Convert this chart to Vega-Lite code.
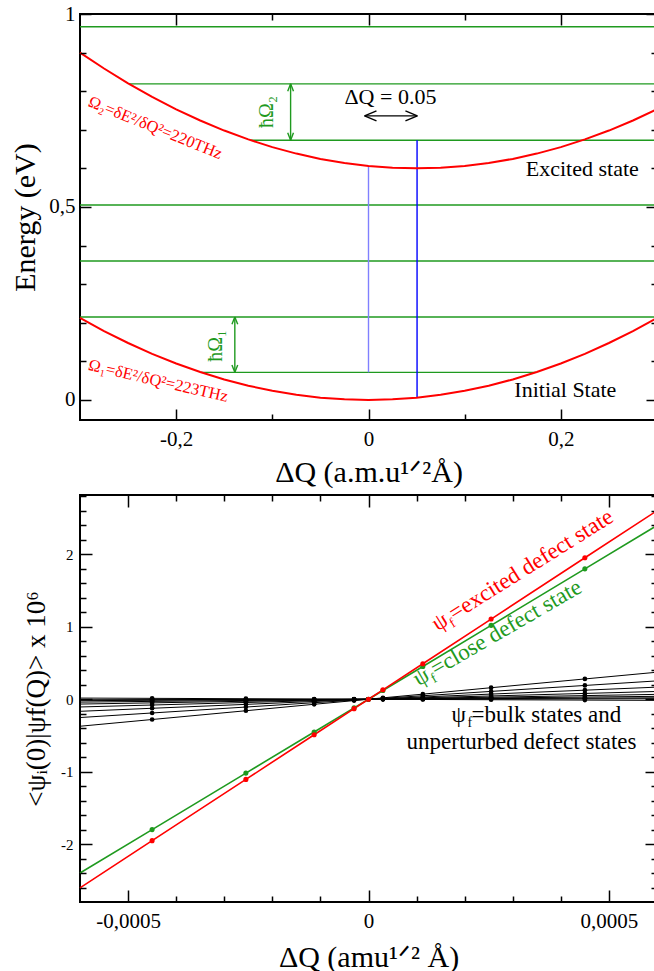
{
 "$schema": "https://vega.github.io/schema/vega-lite/v6.json",
 "padding": {"left": 9, "top": 2, "right": 0, "bottom": 0},
 "spacing": 5,
 "resolve": {"scale": {"color": "independent"}},
 "config": {
  "font": "Liberation Serif",
  "view": {"stroke": "#000000", "strokeWidth": 2},
  "axis": {"domain": false, "grid": false, "tickColor": "#000000", "tickWidth": 1.5, "labelColor": "#000000", "titleColor": "#000000", "labelFont": "Liberation Serif", "titleFont": "Liberation Serif", "titleFontWeight": "normal"},
  "text": {"font": "Liberation Serif"}
 },
 "datasets": {
  "segsTop": [
   {"x": -0.3, "y": 0.967, "x2": 0.3, "y2": 0.967, "kind": "g"},
   {"x": -0.249, "y": 0.819, "x2": 0.3, "y2": 0.819, "kind": "g"},
   {"x": -0.1226, "y": 0.673, "x2": 0.3, "y2": 0.673, "kind": "g"},
   {"x": -0.3, "y": 0.505, "x2": 0.3, "y2": 0.505, "kind": "g"},
   {"x": -0.3, "y": 0.36, "x2": 0.3, "y2": 0.36, "kind": "g"},
   {"x": -0.3, "y": 0.215, "x2": 0.3, "y2": 0.215, "kind": "g"},
   {"x": -0.174, "y": 0.0715, "x2": 0.174, "y2": 0.0715, "kind": "g"},
   {"x": -0.081, "y": 0.673, "x2": -0.081, "y2": 0.819, "kind": "g"},
   {"x": -0.081, "y": 0.819, "x2": -0.084, "y2": 0.8, "kind": "g"},
   {"x": -0.081, "y": 0.819, "x2": -0.078, "y2": 0.8, "kind": "g"},
   {"x": -0.081, "y": 0.673, "x2": -0.084, "y2": 0.692, "kind": "g"},
   {"x": -0.081, "y": 0.673, "x2": -0.078, "y2": 0.692, "kind": "g"},
   {"x": -0.139, "y": 0.0715, "x2": -0.139, "y2": 0.215, "kind": "g"},
   {"x": -0.139, "y": 0.215, "x2": -0.142, "y2": 0.196, "kind": "g"},
   {"x": -0.139, "y": 0.215, "x2": -0.136, "y2": 0.196, "kind": "g"},
   {"x": -0.139, "y": 0.0715, "x2": -0.142, "y2": 0.0905, "kind": "g"},
   {"x": -0.139, "y": 0.0715, "x2": -0.136, "y2": 0.0905, "kind": "g"},
   {"x": 0, "y": 0.0715, "x2": 0, "y2": 0.606, "kind": "lb"},
   {"x": 0.0505, "y": 0.0059, "x2": 0.0505, "y2": 0.673, "kind": "b"},
   {"x": -0.0041, "y": 0.736, "x2": 0.0508, "y2": 0.736, "kind": "k"},
   {"x": -0.0041, "y": 0.736, "x2": 0.0083, "y2": 0.749, "kind": "k"},
   {"x": -0.0041, "y": 0.736, "x2": 0.0083, "y2": 0.723, "kind": "k"},
   {"x": 0.0508, "y": 0.736, "x2": 0.0384, "y2": 0.749, "kind": "k"},
   {"x": 0.0508, "y": 0.736, "x2": 0.0384, "y2": 0.723, "kind": "k"}
  ],
  "curvesTop": [
   {"curve": "ground", "q": -0.3, "e": 0.2124},
   {"curve": "ground", "q": -0.275, "e": 0.1785},
   {"curve": "ground", "q": -0.25, "e": 0.1475},
   {"curve": "ground", "q": -0.225, "e": 0.1195},
   {"curve": "ground", "q": -0.2, "e": 0.0944},
   {"curve": "ground", "q": -0.175, "e": 0.0723},
   {"curve": "ground", "q": -0.15, "e": 0.0531},
   {"curve": "ground", "q": -0.125, "e": 0.0369},
   {"curve": "ground", "q": -0.1, "e": 0.0236},
   {"curve": "ground", "q": -0.075, "e": 0.0133},
   {"curve": "ground", "q": -0.05, "e": 0.0059},
   {"curve": "ground", "q": -0.025, "e": 0.0015},
   {"curve": "ground", "q": 0, "e": 0},
   {"curve": "ground", "q": 0.025, "e": 0.0015},
   {"curve": "ground", "q": 0.05, "e": 0.0059},
   {"curve": "ground", "q": 0.075, "e": 0.0133},
   {"curve": "ground", "q": 0.1, "e": 0.0236},
   {"curve": "ground", "q": 0.125, "e": 0.0369},
   {"curve": "ground", "q": 0.15, "e": 0.0531},
   {"curve": "ground", "q": 0.175, "e": 0.0723},
   {"curve": "ground", "q": 0.2, "e": 0.0944},
   {"curve": "ground", "q": 0.225, "e": 0.1195},
   {"curve": "ground", "q": 0.25, "e": 0.1475},
   {"curve": "ground", "q": 0.275, "e": 0.1785},
   {"curve": "ground", "q": 0.3, "e": 0.2124},
   {"curve": "excited", "q": -0.3, "e": 0.9001},
   {"curve": "excited", "q": -0.275, "e": 0.8588},
   {"curve": "excited", "q": -0.25, "e": 0.8205},
   {"curve": "excited", "q": -0.225, "e": 0.7853},
   {"curve": "excited", "q": -0.2, "e": 0.7531},
   {"curve": "excited", "q": -0.175, "e": 0.724},
   {"curve": "excited", "q": -0.15, "e": 0.698},
   {"curve": "excited", "q": -0.125, "e": 0.675},
   {"curve": "excited", "q": -0.1, "e": 0.6551},
   {"curve": "excited", "q": -0.075, "e": 0.6383},
   {"curve": "excited", "q": -0.05, "e": 0.6245},
   {"curve": "excited", "q": -0.025, "e": 0.6138},
   {"curve": "excited", "q": 0, "e": 0.6061},
   {"curve": "excited", "q": 0.025, "e": 0.6015},
   {"curve": "excited", "q": 0.05, "e": 0.6},
   {"curve": "excited", "q": 0.075, "e": 0.6015},
   {"curve": "excited", "q": 0.1, "e": 0.6061},
   {"curve": "excited", "q": 0.125, "e": 0.6138},
   {"curve": "excited", "q": 0.15, "e": 0.6245},
   {"curve": "excited", "q": 0.175, "e": 0.6383},
   {"curve": "excited", "q": 0.2, "e": 0.6551},
   {"curve": "excited", "q": 0.225, "e": 0.675},
   {"curve": "excited", "q": 0.25, "e": 0.698},
   {"curve": "excited", "q": 0.275, "e": 0.724},
   {"curve": "excited", "q": 0.3, "e": 0.7531}
  ],
  "textTop": [
   {"q": 0.0228, "e": 0.785, "label": "ΔQ = 0.05"},
   {"q": 0.2223, "e": 0.598, "label": "Excited state"},
   {"q": 0.2047, "e": 0.026, "label": "Initial State"}
  ],
  "hbarTop": [
   {"q": -0.1057, "e": 0.746, "label": "ħΩ₂"},
   {"q": -0.1585, "e": 0.14, "label": "ħΩ₁"}
  ],
  "om2": [{"q": -0.2218, "e": 0.705, "label": "Ω₂=δE²/δQ²=220THz"}],
  "om1": [{"q": -0.2187, "e": 0.049, "label": "Ω₁=δE²/δQ²=223THz"}],
  "black": [
   {"id": 1, "x": -0.0006, "v": -0.373}, {"id": 1, "x": -0.00045, "v": -0.28}, {"id": 1, "x": -0.000255, "v": -0.159}, {"id": 1, "x": -0.000113, "v": -0.07}, {"id": 1, "x": -0.00003, "v": -0.019}, {"id": 1, "x": 0, "v": 0}, {"id": 1, "x": 0.00003, "v": 0.019}, {"id": 1, "x": 0.000113, "v": 0.07}, {"id": 1, "x": 0.000255, "v": 0.159}, {"id": 1, "x": 0.00045, "v": 0.28}, {"id": 1, "x": 0.0006, "v": 0.373},
   {"id": 2, "x": -0.0006, "v": -0.253}, {"id": 2, "x": -0.00045, "v": -0.19}, {"id": 2, "x": -0.000255, "v": -0.108}, {"id": 2, "x": -0.000113, "v": -0.048}, {"id": 2, "x": -0.00003, "v": -0.013}, {"id": 2, "x": 0, "v": 0}, {"id": 2, "x": 0.00003, "v": 0.013}, {"id": 2, "x": 0.000113, "v": 0.048}, {"id": 2, "x": 0.000255, "v": 0.108}, {"id": 2, "x": 0.00045, "v": 0.19}, {"id": 2, "x": 0.0006, "v": 0.253},
   {"id": 3, "x": -0.0006, "v": -0.167}, {"id": 3, "x": -0.00045, "v": -0.125}, {"id": 3, "x": -0.000255, "v": -0.071}, {"id": 3, "x": -0.000113, "v": -0.031}, {"id": 3, "x": -0.00003, "v": -0.008}, {"id": 3, "x": 0, "v": 0}, {"id": 3, "x": 0.00003, "v": 0.008}, {"id": 3, "x": 0.000113, "v": 0.031}, {"id": 3, "x": 0.000255, "v": 0.071}, {"id": 3, "x": 0.00045, "v": 0.125}, {"id": 3, "x": 0.0006, "v": 0.167},
   {"id": 4, "x": -0.0006, "v": -0.107}, {"id": 4, "x": -0.00045, "v": -0.08}, {"id": 4, "x": -0.000255, "v": -0.045}, {"id": 4, "x": -0.000113, "v": -0.02}, {"id": 4, "x": -0.00003, "v": -0.005}, {"id": 4, "x": 0, "v": 0}, {"id": 4, "x": 0.00003, "v": 0.005}, {"id": 4, "x": 0.000113, "v": 0.02}, {"id": 4, "x": 0.000255, "v": 0.045}, {"id": 4, "x": 0.00045, "v": 0.08}, {"id": 4, "x": 0.0006, "v": 0.107},
   {"id": 5, "x": -0.0006, "v": -0.067}, {"id": 5, "x": -0.00045, "v": -0.05}, {"id": 5, "x": -0.000255, "v": -0.028}, {"id": 5, "x": -0.000113, "v": -0.013}, {"id": 5, "x": -0.00003, "v": -0.003}, {"id": 5, "x": 0, "v": 0}, {"id": 5, "x": 0.00003, "v": 0.003}, {"id": 5, "x": 0.000113, "v": 0.013}, {"id": 5, "x": 0.000255, "v": 0.028}, {"id": 5, "x": 0.00045, "v": 0.05}, {"id": 5, "x": 0.0006, "v": 0.067},
   {"id": 6, "x": -0.0006, "v": -0.04}, {"id": 6, "x": -0.00045, "v": -0.03}, {"id": 6, "x": -0.000255, "v": -0.017}, {"id": 6, "x": -0.000113, "v": -0.008}, {"id": 6, "x": -0.00003, "v": -0.002}, {"id": 6, "x": 0, "v": 0}, {"id": 6, "x": 0.00003, "v": 0.002}, {"id": 6, "x": 0.000113, "v": 0.008}, {"id": 6, "x": 0.000255, "v": 0.017}, {"id": 6, "x": 0.00045, "v": 0.03}, {"id": 6, "x": 0.0006, "v": 0.04},
   {"id": 7, "x": -0.0006, "v": -0.02}, {"id": 7, "x": -0.00045, "v": -0.015}, {"id": 7, "x": -0.000255, "v": -0.0085}, {"id": 7, "x": -0.000113, "v": -0.004}, {"id": 7, "x": -0.00003, "v": -0.001}, {"id": 7, "x": 0, "v": 0}, {"id": 7, "x": 0.00003, "v": 0.001}, {"id": 7, "x": 0.000113, "v": 0.004}, {"id": 7, "x": 0.000255, "v": 0.0085}, {"id": 7, "x": 0.00045, "v": 0.015}, {"id": 7, "x": 0.0006, "v": 0.02},
   {"id": 8, "x": -0.0006, "v": -0.007}, {"id": 8, "x": -0.00045, "v": -0.005}, {"id": 8, "x": -0.000255, "v": -0.003}, {"id": 8, "x": -0.000113, "v": -0.001}, {"id": 8, "x": -0.00003, "v": 0}, {"id": 8, "x": 0, "v": 0}, {"id": 8, "x": 0.00003, "v": 0}, {"id": 8, "x": 0.000113, "v": 0.001}, {"id": 8, "x": 0.000255, "v": 0.003}, {"id": 8, "x": 0.00045, "v": 0.005}, {"id": 8, "x": 0.0006, "v": 0.007},
   {"id": 9, "x": -0.0006, "v": 0.016}, {"id": 9, "x": -0.00045, "v": 0.012}, {"id": 9, "x": -0.000255, "v": 0.007}, {"id": 9, "x": -0.000113, "v": 0.003}, {"id": 9, "x": -0.00003, "v": 0.001}, {"id": 9, "x": 0, "v": 0}, {"id": 9, "x": 0.00003, "v": -0.001}, {"id": 9, "x": 0.000113, "v": -0.003}, {"id": 9, "x": 0.000255, "v": -0.007}, {"id": 9, "x": 0.00045, "v": -0.012}, {"id": 9, "x": 0.0006, "v": -0.016}
  ],
  "rg": [
   {"s": "g", "x": -0.0006, "v": -2.4}, {"s": "g", "x": -0.00045, "v": -1.8}, {"s": "g", "x": -0.000255, "v": -1.02}, {"s": "g", "x": -0.000113, "v": -0.452}, {"s": "g", "x": -0.00003, "v": -0.12}, {"s": "g", "x": 0, "v": 0}, {"s": "g", "x": 0.00003, "v": 0.12}, {"s": "g", "x": 0.000113, "v": 0.452}, {"s": "g", "x": 0.000255, "v": 1.02}, {"s": "g", "x": 0.00045, "v": 1.8}, {"s": "g", "x": 0.0006, "v": 2.4},
   {"s": "r", "x": -0.0006, "v": -2.604}, {"s": "r", "x": -0.00045, "v": -1.953}, {"s": "r", "x": -0.000255, "v": -1.107}, {"s": "r", "x": -0.000113, "v": -0.49}, {"s": "r", "x": -0.00003, "v": -0.13}, {"s": "r", "x": 0, "v": 0}, {"s": "r", "x": 0.00003, "v": 0.13}, {"s": "r", "x": 0.000113, "v": 0.49}, {"s": "r", "x": 0.000255, "v": 1.107}, {"s": "r", "x": 0.00045, "v": 1.953}, {"s": "r", "x": 0.0006, "v": 2.604}
  ],
  "redText": [{"x": 0.0001434, "v": 0.934, "label": "ψ =excited defect state"}],
  "redSub": [{"x": 0.0001752, "v": 0.985, "label": "f"}],
  "greenText": [{"x": 0.0001042, "v": 0.175, "label": "ψ =close defect state"}],
  "greenSub": [{"x": 0.0001361, "v": 0.219, "label": "f"}],
  "blackText": [
   {"x": 0.0001725, "v": -0.308, "label": "ψ =bulk states and"},
   {"x": 0.0000792, "v": -0.692, "label": "unperturbed defect states"}
  ],
  "blackSub": [{"x": 0.0002058, "v": -0.385, "label": "f"}]
 },
 "vconcat": [
  {
   "width": 577,
   "height": 406,
   "resolve": {"axis": {"x": "independent", "y": "independent"}},
   "layer": [
    {
     "data": {"name": "segsTop"},
     "mark": {"type": "rule", "strokeWidth": 1.4},
     "encoding": {
      "x": {"field": "x", "type": "quantitative", "scale": {"domain": [-0.3, 0.3], "nice": false, "zero": false},
            "axis": {"orient": "bottom", "values": [-0.2, 0, 0.2], "ticks": false, "labelFontSize": 21, "labelPadding": 8, "labelExpr": "replace(replace(format(datum.value, ''), '.', ','), '−', '-')", "title": "ΔQ (a.m.u¹ᐟ²Å)", "titleFontSize": 30, "titlePadding": 8}},
      "y": {"field": "y", "type": "quantitative", "scale": {"domain": [-0.052, 1.0], "nice": false, "zero": false},
            "axis": {"orient": "left", "values": [0, 0.5, 1], "ticks": false, "labelFontSize": 21, "labelPadding": 5, "labelExpr": "replace(format(datum.value, ''), '.', ',')", "title": "Energy (eV)", "titleFontSize": 30, "titlePadding": 8}},
      "x2": {"field": "x2"},
      "y2": {"field": "y2"},
      "color": {"field": "kind", "type": "nominal", "scale": {"domain": ["g", "b", "lb", "k"], "range": ["#1f9a1f", "#0000ff", "#8080ff", "#000000"]}, "legend": null}
     }
    },
    {
     "data": {"name": "curvesTop"},
     "mark": {"type": "line", "color": "#ff0000", "strokeWidth": 2},
     "encoding": {
      "x": {"field": "q", "type": "quantitative", "scale": {"domain": [-0.3, 0.3], "nice": false, "zero": false},
            "axis": {"orient": "bottom", "values": [-0.2, 0, 0.2], "offset": -11, "tickSize": 11, "zindex": 1, "labels": false, "title": null}},
      "y": {"field": "e", "type": "quantitative", "scale": {"domain": [-0.052, 1.0], "nice": false, "zero": false},
            "axis": {"orient": "left", "values": [0, 0.5, 1], "offset": -11, "tickSize": 11, "zindex": 1, "labels": false, "title": null}},
      "detail": {"field": "curve"}
     }
    },
    {
     "data": {"name": "textTop"},
     "mark": {"type": "text", "fontSize": 22, "color": "#000000", "align": "center", "baseline": "middle"},
     "encoding": {
      "x": {"field": "q", "type": "quantitative", "scale": {"domain": [-0.3, 0.3], "nice": false, "zero": false},
            "axis": {"orient": "bottom", "values": [-0.1, 0.1], "offset": -6, "tickSize": 6, "zindex": 1, "labels": false, "title": null}},
      "y": {"field": "e", "type": "quantitative", "scale": {"domain": [-0.052, 1.0], "nice": false, "zero": false},
            "axis": {"orient": "left", "values": [0.1, 0.2, 0.3, 0.4, 0.6, 0.7, 0.8, 0.9], "offset": -6, "tickSize": 6, "zindex": 1, "labels": false, "title": null}},
      "text": {"field": "label"}
     }
    },
    {
     "data": {"name": "hbarTop"},
     "mark": {"type": "text", "fontSize": 20, "color": "#1f9a1f", "align": "center", "baseline": "middle", "angle": 270},
     "encoding": {
      "x": {"field": "q", "type": "quantitative", "scale": {"domain": [-0.3, 0.3], "nice": false, "zero": false},
            "axis": {"orient": "top", "values": [-0.2, 0, 0.2], "offset": -11, "tickSize": 11, "zindex": 1, "labels": false, "title": null}},
      "y": {"field": "e", "type": "quantitative", "scale": {"domain": [-0.052, 1.0], "nice": false, "zero": false},
            "axis": {"orient": "right", "values": [0, 0.5, 1], "offset": -11, "tickSize": 11, "zindex": 1, "labels": false, "title": null}},
      "text": {"field": "label"}
     }
    },
    {
     "data": {"name": "om2"},
     "mark": {"type": "text", "fontSize": 16.5, "color": "#ff0000", "align": "center", "baseline": "middle", "angle": 22},
     "encoding": {
      "x": {"field": "q", "type": "quantitative", "scale": {"domain": [-0.3, 0.3], "nice": false, "zero": false},
            "axis": {"orient": "top", "values": [-0.1, 0.1], "offset": -6, "tickSize": 6, "zindex": 1, "labels": false, "title": null}},
      "y": {"field": "e", "type": "quantitative", "scale": {"domain": [-0.052, 1.0], "nice": false, "zero": false},
            "axis": {"orient": "right", "values": [0.1, 0.2, 0.3, 0.4, 0.6, 0.7, 0.8, 0.9], "offset": -6, "tickSize": 6, "zindex": 1, "labels": false, "title": null}},
      "text": {"field": "label"}
     }
    },
    {
     "data": {"name": "om1"},
     "mark": {"type": "text", "fontSize": 16.5, "color": "#ff0000", "align": "center", "baseline": "middle", "angle": 13},
     "encoding": {
      "x": {"field": "q", "type": "quantitative", "scale": {"domain": [-0.3, 0.3], "nice": false, "zero": false}, "axis": null},
      "y": {"field": "e", "type": "quantitative", "scale": {"domain": [-0.052, 1.0], "nice": false, "zero": false}, "axis": null},
      "text": {"field": "label"}
     }
    }
   ]
  },
  {
   "width": 577,
   "height": 407,
   "resolve": {"axis": {"x": "independent", "y": "independent"}},
   "layer": [
    {
     "data": {"name": "black"},
     "mark": {"type": "line", "color": "#000000", "strokeWidth": 1},
     "encoding": {
      "x": {"field": "x", "type": "quantitative", "scale": {"domain": [-0.0006, 0.0006], "nice": false, "zero": false},
            "axis": {"orient": "bottom", "values": [-0.0005, 0, 0.0005], "ticks": false, "labelFontSize": 21, "labelPadding": 8, "labelExpr": "replace(replace(format(datum.value, ''), '.', ','), '−', '-')", "title": "ΔQ (amu¹ᐟ² Å)", "titleFontSize": 30, "titlePadding": 11}},
      "y": {"field": "v", "type": "quantitative", "scale": {"domain": [-2.8, 2.82], "nice": false, "zero": false},
            "axis": {"orient": "left", "values": [-2, -1, 0, 1, 2], "ticks": false, "labelFontSize": 15, "labelPadding": 7, "labelExpr": "replace(format(datum.value, ''), '−', '-')", "title": "<ψᵢ(0)|ψf(Q)> x 10⁶", "titleFontSize": 27, "titlePadding": 10}},
      "detail": {"field": "id"}
     }
    },
    {
     "data": {"name": "rg"},
     "mark": {"type": "line", "strokeWidth": 1.6},
     "encoding": {
      "x": {"field": "x", "type": "quantitative", "scale": {"domain": [-0.0006, 0.0006], "nice": false, "zero": false},
            "axis": {"orient": "bottom", "values": [-0.0005, 0, 0.0005], "offset": -12, "tickSize": 12, "zindex": 1, "labels": false, "title": null}},
      "y": {"field": "v", "type": "quantitative", "scale": {"domain": [-2.8, 2.82], "nice": false, "zero": false},
            "axis": {"orient": "left", "values": [-2, -1, 0, 1, 2], "offset": -12, "tickSize": 12, "zindex": 1, "labels": false, "title": null}},
      "color": {"field": "s", "type": "nominal", "scale": {"domain": ["g", "r"], "range": ["#1f9a1f", "#ff0000"]}, "legend": null}
     }
    },
    {
     "data": {"name": "black"},
     "transform": [{"filter": "abs(datum.x) < 0.0005"}],
     "mark": {"type": "point", "filled": true, "color": "#000000", "size": 22, "opacity": 1},
     "encoding": {
      "x": {"field": "x", "type": "quantitative", "scale": {"domain": [-0.0006, 0.0006], "nice": false, "zero": false},
            "axis": {"orient": "bottom", "values": [-0.0004, -0.0003, -0.0002, -0.0001, 0.0001, 0.0002, 0.0003, 0.0004], "offset": -6, "tickSize": 6, "zindex": 1, "labels": false, "title": null}},
      "y": {"field": "v", "type": "quantitative", "scale": {"domain": [-2.8, 2.82], "nice": false, "zero": false},
            "axis": {"orient": "left", "values": [-2.6, -2.4, -2.2, -1.8, -1.6, -1.4, -1.2, -0.8, -0.6, -0.4, -0.2, 0.2, 0.4, 0.6, 0.8, 1.2, 1.4, 1.6, 1.8, 2.2, 2.4, 2.6, 2.8], "offset": -6, "tickSize": 6, "zindex": 1, "labels": false, "title": null}}
     }
    },
    {
     "data": {"name": "rg"},
     "transform": [{"filter": "abs(datum.x) < 0.0005"}],
     "mark": {"type": "point", "filled": true, "size": 26, "opacity": 1},
     "encoding": {
      "x": {"field": "x", "type": "quantitative", "scale": {"domain": [-0.0006, 0.0006], "nice": false, "zero": false},
            "axis": {"orient": "top", "values": [-0.0005, 0, 0.0005], "offset": -12, "tickSize": 12, "zindex": 1, "labels": false, "title": null}},
      "y": {"field": "v", "type": "quantitative", "scale": {"domain": [-2.8, 2.82], "nice": false, "zero": false},
            "axis": {"orient": "right", "values": [-2, -1, 0, 1, 2], "offset": -12, "tickSize": 12, "zindex": 1, "labels": false, "title": null}},
      "color": {"field": "s", "type": "nominal", "scale": {"domain": ["g", "r"], "range": ["#1f9a1f", "#ff0000"]}, "legend": null}
     }
    },
    {
     "data": {"name": "redText"},
     "mark": {"type": "text", "fontSize": 23, "color": "#ff0000", "align": "left", "baseline": "alphabetic", "angle": -32},
     "encoding": {
      "x": {"field": "x", "type": "quantitative", "scale": {"domain": [-0.0006, 0.0006], "nice": false, "zero": false},
            "axis": {"orient": "top", "values": [-0.0004, -0.0003, -0.0002, -0.0001, 0.0001, 0.0002, 0.0003, 0.0004], "offset": -6, "tickSize": 6, "zindex": 1, "labels": false, "title": null}},
      "y": {"field": "v", "type": "quantitative", "scale": {"domain": [-2.8, 2.82], "nice": false, "zero": false},
            "axis": {"orient": "right", "values": [-2.6, -2.4, -2.2, -1.8, -1.6, -1.4, -1.2, -0.8, -0.6, -0.4, -0.2, 0.2, 0.4, 0.6, 0.8, 1.2, 1.4, 1.6, 1.8, 2.2, 2.4, 2.6, 2.8], "offset": -6, "tickSize": 6, "zindex": 1, "labels": false, "title": null}},
      "text": {"field": "label"}
     }
    },
    {
     "data": {"name": "redSub"},
     "mark": {"type": "text", "fontSize": 14, "color": "#ff0000", "align": "left", "baseline": "alphabetic", "angle": -32},
     "encoding": {
      "x": {"field": "x", "type": "quantitative", "scale": {"domain": [-0.0006, 0.0006], "nice": false, "zero": false}, "axis": null},
      "y": {"field": "v", "type": "quantitative", "scale": {"domain": [-2.8, 2.82], "nice": false, "zero": false}, "axis": null},
      "text": {"field": "label"}
     }
    },
    {
     "data": {"name": "greenText"},
     "mark": {"type": "text", "fontSize": 23, "color": "#1f9a1f", "align": "left", "baseline": "alphabetic", "angle": -30},
     "encoding": {
      "x": {"field": "x", "type": "quantitative", "scale": {"domain": [-0.0006, 0.0006], "nice": false, "zero": false}, "axis": null},
      "y": {"field": "v", "type": "quantitative", "scale": {"domain": [-2.8, 2.82], "nice": false, "zero": false}, "axis": null},
      "text": {"field": "label"}
     }
    },
    {
     "data": {"name": "greenSub"},
     "mark": {"type": "text", "fontSize": 14, "color": "#1f9a1f", "align": "left", "baseline": "alphabetic", "angle": -30},
     "encoding": {
      "x": {"field": "x", "type": "quantitative", "scale": {"domain": [-0.0006, 0.0006], "nice": false, "zero": false}, "axis": null},
      "y": {"field": "v", "type": "quantitative", "scale": {"domain": [-2.8, 2.82], "nice": false, "zero": false}, "axis": null},
      "text": {"field": "label"}
     }
    },
    {
     "data": {"name": "blackText"},
     "mark": {"type": "text", "fontSize": 23, "color": "#000000", "align": "left", "baseline": "alphabetic"},
     "encoding": {
      "x": {"field": "x", "type": "quantitative", "scale": {"domain": [-0.0006, 0.0006], "nice": false, "zero": false}, "axis": null},
      "y": {"field": "v", "type": "quantitative", "scale": {"domain": [-2.8, 2.82], "nice": false, "zero": false}, "axis": null},
      "text": {"field": "label"}
     }
    },
    {
     "data": {"name": "blackSub"},
     "mark": {"type": "text", "fontSize": 14, "color": "#000000", "align": "left", "baseline": "alphabetic"},
     "encoding": {
      "x": {"field": "x", "type": "quantitative", "scale": {"domain": [-0.0006, 0.0006], "nice": false, "zero": false}, "axis": null},
      "y": {"field": "v", "type": "quantitative", "scale": {"domain": [-2.8, 2.82], "nice": false, "zero": false}, "axis": null},
      "text": {"field": "label"}
     }
    }
   ]
  }
 ]
}
